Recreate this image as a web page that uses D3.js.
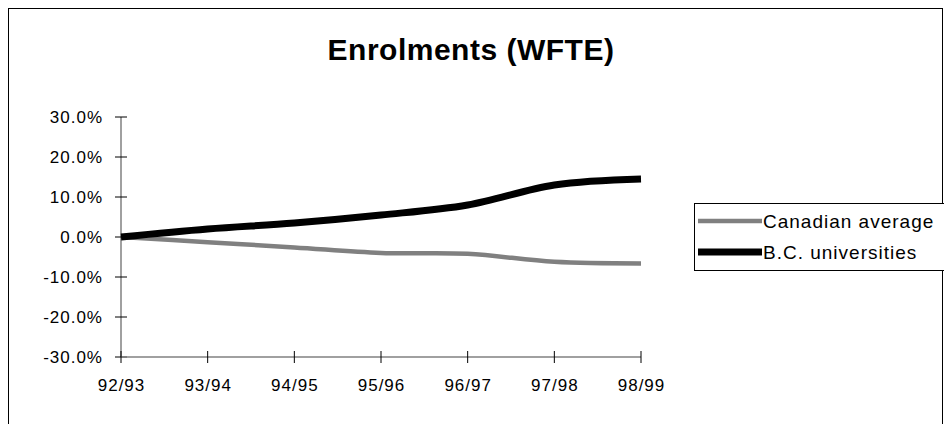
<!DOCTYPE html>
<html>
<head>
<meta charset="utf-8">
<script src="https://cdn.jsdelivr.net/npm/d3@7"></script>
<style>
  html, body { margin: 0; padding: 0; background: #fff; }
  svg { display: block; font-family: "Liberation Sans", Arial, sans-serif; }
</style>
</head>
<body>
<svg id="chart" width="944" height="424"></svg>
<script>
// Academic years on the category axis
const years = ["92/93", "93/94", "94/95", "95/96", "96/97", "97/98", "98/99"];
// Cumulative change in weighted full-time-equivalent enrolments (%)
const canadianAverage = [0, -1.3, -2.6, -4.0, -4.2, -6.2, -6.6];
const bcUniversities = [0, 2.0, 3.5, 5.5, 8.0, 13.0, 14.5];
// Value-axis ticks (%)
const yTicks = [30, 20, 10, 0, -10, -20, -30];

const series = [
  { name: "Canadian average", values: canadianAverage, color: "#808080", width: 4.5 },
  { name: "B.C. universities", values: bcUniversities, color: "#000000", width: 7 }
];

const svg = d3.select("#chart");

// Outer chart frame
svg.append("rect")
  .attr("x", 8.5).attr("y", 8.5)
  .attr("width", 934).attr("height", 430)
  .attr("fill", "none").attr("stroke", "#000").attr("stroke-width", 1);

// Title
svg.append("text")
  .attr("x", 471).attr("y", 60)
  .attr("text-anchor", "middle")
  .attr("font-size", 30).attr("font-weight", "bold")
  .attr("letter-spacing", 0.5)
  .text("Enrolments (WFTE)");

const x = d3.scalePoint().domain(years).range([121, 641]);
const y = d3.scaleLinear().domain([-30, 30]).range([357, 117]);

// Percent labels with a plain hyphen for negatives
const pct = d => (d < 0 ? "-" : "") + Math.abs(d).toFixed(1) + "%";

// Value axis
const gy = svg.append("g").attr("transform", "translate(121,0)");
gy.append("line").attr("x1", 0).attr("x2", 0).attr("y1", y(30)).attr("y2", y(-30))
  .attr("stroke", "#808080").attr("stroke-width", 1.5);
gy.selectAll("line.tick").data(yTicks).join("line")
  .attr("class", "tick")
  .attr("x1", -6).attr("x2", 6)
  .attr("y1", d => y(d)).attr("y2", d => y(d))
  .attr("stroke", "#000").attr("stroke-width", 1);
gy.selectAll("text").data(yTicks).join("text")
  .attr("x", -18).attr("y", d => y(d)).attr("dy", "0.35em")
  .attr("text-anchor", "end").attr("font-size", 17)
  .attr("letter-spacing", 1)
  .text(pct);

// Category axis at the bottom of the value range
const gx = svg.append("g");
gx.append("line").attr("x1", x(years[0])).attr("x2", x(years[years.length - 1]))
  .attr("y1", y(-30)).attr("y2", y(-30))
  .attr("stroke", "#808080").attr("stroke-width", 1.5);
gx.selectAll("line.tick").data(years).join("line")
  .attr("class", "tick")
  .attr("x1", d => x(d)).attr("x2", d => x(d))
  .attr("y1", y(-30) - 6).attr("y2", y(-30) + 6)
  .attr("stroke", "#000").attr("stroke-width", 1);
gx.selectAll("text").data(years).join("text")
  .attr("x", d => x(d) + 0.5).attr("y", y(-30) + 34)
  .attr("text-anchor", "middle").attr("font-size", 17)
  .attr("letter-spacing", 1)
  .text(d => d);

// Smoothed series lines
const line = d3.line()
  .x((d, i) => x(years[i]))
  .y(d => y(d))
  .curve(d3.curveCatmullRom.alpha(0.5));

svg.append("g").selectAll("path").data(series).join("path")
  .attr("d", d => line(d.values))
  .attr("fill", "none")
  .attr("stroke", d => d.color)
  .attr("stroke-width", d => d.width)
  .attr("stroke-linejoin", "round");

// Legend
const lg = svg.append("g");
lg.append("rect")
  .attr("x", 694.5).attr("y", 203.5)
  .attr("width", 260).attr("height", 67)
  .attr("fill", "#fff").attr("stroke", "#000").attr("stroke-width", 1);
const items = lg.selectAll("g").data(series).join("g")
  .attr("transform", (d, i) => `translate(0,${221 + i * 31})`);
items.append("line")
  .attr("x1", 698).attr("x2", 762).attr("y1", 0).attr("y2", 0)
  .attr("stroke", d => d.color).attr("stroke-width", d => d.width);
items.append("text")
  .attr("x", 763).attr("y", 0).attr("dy", "0.35em")
  .attr("font-size", 19).attr("letter-spacing", 1)
  .text(d => d.name);
</script>
</body>
</html>
